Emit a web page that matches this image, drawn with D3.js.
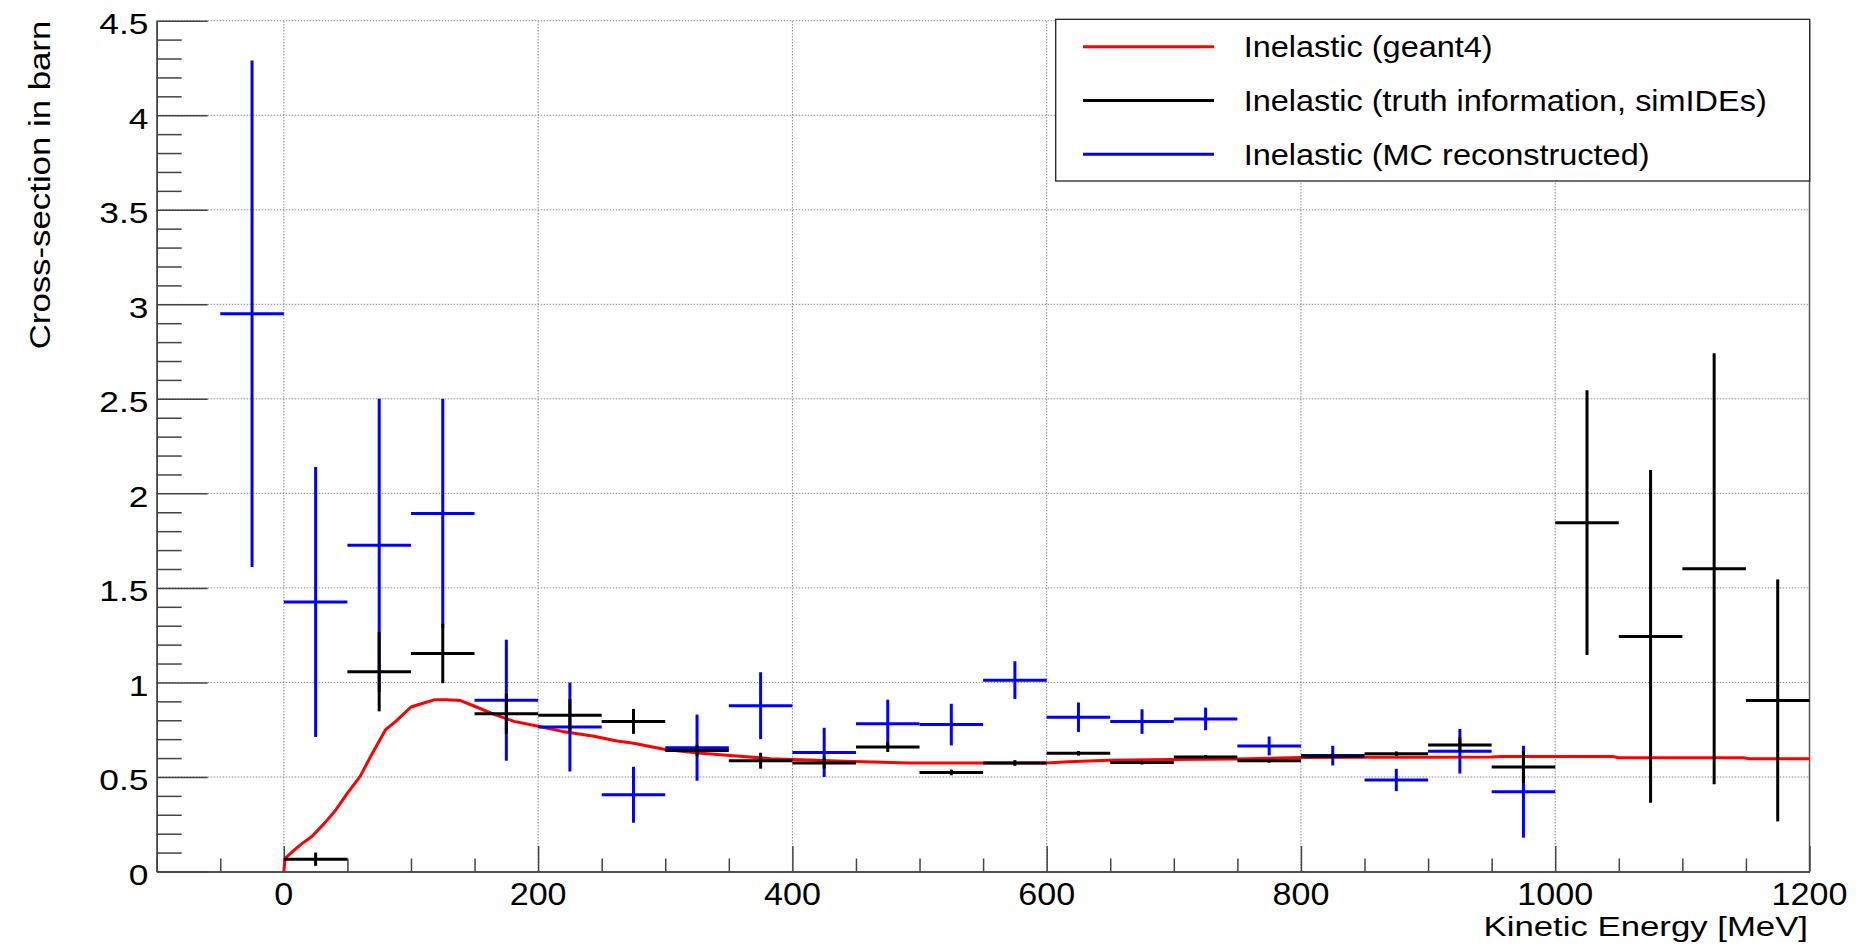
<html>
<head>
<style>
  body { margin: 0; background: #fff; }
  text { font-family: "Liberation Sans", Arial, Helvetica, sans-serif; fill: #000; }
</style>
</head>
<body>
<svg width="1859" height="950"></svg>
<script src="https://d3js.org/d3.v7.min.js"></script>
<script>
// geant4 inelastic curve (kinetic energy in MeV, cross-section in barn)
var g4E   = [0, 1, 7, 13, 22, 32, 41, 50, 60, 69, 80, 88, 100, 110, 119, 128, 139, 150, 166, 181, 200, 219, 244, 262, 274, 300, 326, 351, 383, 400, 441, 492, 550, 600, 617, 649, 697, 749, 800, 850, 900, 950, 957, 1045, 1050, 1148, 1152, 1200];
var g4Sig = [0, 0.07, 0.106, 0.141, 0.185, 0.256, 0.327, 0.415, 0.503, 0.618, 0.75, 0.794, 0.87, 0.891, 0.909, 0.909, 0.904, 0.874, 0.83, 0.794, 0.768, 0.741, 0.715, 0.69, 0.68, 0.645, 0.627, 0.613, 0.597, 0.592, 0.583, 0.574, 0.574, 0.574, 0.581, 0.588, 0.593, 0.595, 0.603, 0.604, 0.604, 0.605, 0.608, 0.608, 0.602, 0.602, 0.597, 0.597];

// truth information (simIDEs), bin centres, 50 MeV bins
var truthE   = [25, 75, 125, 175, 225, 275, 325, 375, 425, 475, 525, 575, 625, 675, 725, 775, 825, 875, 925, 975, 1025, 1075, 1125, 1175];
var truthSig = [0.065, 1.057, 1.153, 0.835, 0.826, 0.794, 0.64, 0.586, 0.574, 0.658, 0.524, 0.574, 0.625, 0.576, 0.606, 0.586, 0.609, 0.623, 0.669, 0.553, 1.845, 1.243, 1.601, 0.905];
var truthErr = [0.035, 0.21, 0.157, 0.106, 0.086, 0.066, 0.03, 0.042, 0.03, 0.026, 0.015, 0.015, 0.012, 0.01, 0.01, 0.01, 0.01, 0.012, 0.04, 0.084, 0.70, 0.88, 1.14, 0.64];

// MC reconstructed
var recoE   = [-25, 25, 75, 125, 175, 225, 275, 325, 375, 425, 475, 525, 575, 625, 675, 725, 775, 825, 875, 925, 975];
var recoSig = [2.95, 1.426, 1.725, 1.894, 0.906, 0.764, 0.406, 0.655, 0.877, 0.63, 0.782, 0.777, 1.012, 0.816, 0.793, 0.807, 0.664, 0.613, 0.484, 0.636, 0.422];
var recoErr = [1.34, 0.714, 0.775, 0.606, 0.32, 0.235, 0.148, 0.175, 0.177, 0.13, 0.127, 0.11, 0.1, 0.078, 0.065, 0.06, 0.05, 0.052, 0.059, 0.118, 0.243];

var binHalf = 25;
var xTicks = [0, 200, 400, 600, 800, 1000, 1200];
var yTicks = [0, 0.5, 1, 1.5, 2, 2.5, 3, 3.5, 4, 4.5];
var yTickLabels = ["0", "0.5", "1", "1.5", "2", "2.5", "3", "3.5", "4", "4.5"];

var legendItems = [
  {label: "Inelastic (geant4)", color: "#ff0000"},
  {label: "Inelastic (truth information, simIDEs)", color: "#000000"},
  {label: "Inelastic (MC reconstructed)", color: "#0000ff"}
];

var svg = d3.select("svg");
var L = 156.7, R = 1809.5, T = 20.7, B = 871.5;

var x = d3.scaleLinear().domain([-100, 1200]).range([L, R]);
var y = d3.scaleLinear().domain([0, 4.5]).range([B, T]);

// text that is a bit wider than the plain font, like the original
function stext(g, px, py, str, size, sx, anchor, rot) {
  return g.append("text")
    .attr("transform", "translate(" + px + "," + py + ")" + (rot ? " rotate(" + rot + ")" : "") + " scale(" + sx + ",1)")
    .attr("text-anchor", anchor)
    .style("font-size", size + "px")
    .text(str);
}

// grid
var grid = svg.append("g").attr("stroke", "#8a8a8a").attr("stroke-width", 1).attr("stroke-dasharray", "1.5,1.5");
grid.selectAll(".gx").data(xTicks).enter().append("line")
  .attr("x1", d => x(d)).attr("x2", d => x(d)).attr("y1", B).attr("y2", T);
grid.selectAll(".gy").data(yTicks.slice(1)).enter().append("line")
  .attr("x1", L).attr("x2", R).attr("y1", d => y(d)).attr("y2", d => y(d));

// right frame edge
svg.append("line").attr("x1", R).attr("x2", R).attr("y1", T).attr("y2", B)
  .attr("stroke", "#555").attr("stroke-width", 1.5);

// axes: ticks inside the frame
var yMinor = d3.range(0, 4.5001, 0.1).filter(v => Math.abs(v * 2 - Math.round(v * 2)) > 1e-6);
var xMinor = d3.range(-100, 1200.1, 50).filter(v => v % 200 !== 0);

function styleAxis(g) {
  g.selectAll("path, line").attr("stroke", "#444").attr("stroke-width", 1.5);
  g.selectAll("text").remove();
}

svg.append("g").attr("transform", "translate(" + L + ",0)")
  .call(d3.axisLeft(y).tickValues(yTicks).tickSize(-51).tickSizeOuter(0).tickFormat(""))
  .call(styleAxis);
svg.append("g").attr("transform", "translate(" + L + ",0)")
  .call(d3.axisLeft(y).tickValues(yMinor).tickSize(-25).tickSizeOuter(0).tickFormat(""))
  .call(styleAxis);
svg.append("g").attr("transform", "translate(0," + B + ")")
  .call(d3.axisBottom(x).tickValues(xTicks).tickSize(-25.5).tickSizeOuter(0).tickFormat(""))
  .call(styleAxis);
svg.append("g").attr("transform", "translate(0," + B + ")")
  .call(d3.axisBottom(x).tickValues(xMinor).tickSize(-13).tickSizeOuter(0).tickFormat(""))
  .call(styleAxis);

// tick labels
var labels = svg.append("g");
yTicks.forEach(function(v, i) {
  stext(labels, 148.5, y(v) + 13.5, yTickLabels[i], 29, 1.22, "end");
});
xTicks.forEach(function(v) {
  stext(labels, x(v), 905, String(v), 31, 1.1, "middle");
});

// axis titles
stext(svg, 50, T, "Cross-section in barn", 30, 1.16, "end", -90);
stext(svg, 1808, 936, "Kinetic Energy [MeV]", 28.5, 1.22, "end");

// geant4 curve
var line = d3.line().x(d => x(d[0])).y(d => y(d[1]));
svg.append("path")
  .datum(d3.zip(g4E, g4Sig))
  .attr("d", line)
  .attr("fill", "none")
  .attr("stroke", "#ff0000")
  .attr("stroke-width", 3)
  .attr("stroke-linejoin", "round");

// error-bar crosses
function drawCrosses(E, S, Er, color) {
  var g = svg.append("g").attr("stroke", color).attr("stroke-width", 3);
  var pts = d3.range(E.length).map(i => ({e: E[i], s: S[i], err: Er[i]}));
  g.selectAll(".h").data(pts).enter().append("line")
    .attr("x1", d => x(d.e - binHalf)).attr("x2", d => x(d.e + binHalf))
    .attr("y1", d => y(d.s)).attr("y2", d => y(d.s));
  g.selectAll(".v").data(pts).enter().append("line")
    .attr("x1", d => x(d.e)).attr("x2", d => x(d.e))
    .attr("y1", d => y(Math.max(0, d.s - d.err))).attr("y2", d => y(d.s + d.err));
}
drawCrosses(recoE, recoSig, recoErr, "#0000ff");
drawCrosses(truthE, truthSig, truthErr, "#000000");

// legend
var leg = svg.append("g");
leg.append("rect").attr("x", 1055.7).attr("y", 19.3).attr("width", 754).attr("height", 161.7)
  .attr("fill", "#fff").attr("stroke", "#222").attr("stroke-width", 1.3);
legendItems.forEach(function(it, i) {
  var ly = 46.7 + i * 53.8;
  leg.append("line").attr("x1", 1083).attr("x2", 1214).attr("y1", ly).attr("y2", ly)
    .attr("stroke", it.color).attr("stroke-width", 3);
  stext(leg, 1243.7, ly + 10.6, it.label, 29, 1.12, "start");
});
</script>
</body>
</html>
